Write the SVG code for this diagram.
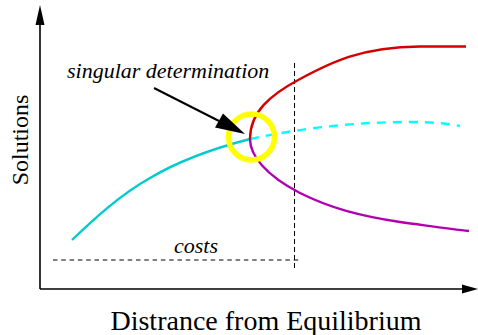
<svg xmlns="http://www.w3.org/2000/svg" width="478" height="335" viewBox="0 0 478 335">
<style>
.axis{stroke:#000;stroke-width:1.6;fill:none}
.curve{fill:none;stroke-width:2.4;stroke-linecap:butt}
.guide{stroke:#000;stroke-width:1;fill:none}
.lbl{font-family:"Liberation Serif",serif;fill:#000}
.it{font-style:italic;font-size:22px}
</style>
<defs>
<marker id="ah" viewBox="0 0 10 10" refX="10" refY="5" markerWidth="10" markerHeight="10" markerUnits="userSpaceOnUse" orient="auto">
<path d="M0,0 L10,5 L0,10 Z" fill="#000"/>
</marker>
</defs>
<g id="axes">
<line class="axis" x1="40" y1="289" x2="40" y2="22"/>
<polygon points="40,5 35.5,25 44.5,25" fill="#000"/>
<line class="axis" x1="40" y1="289" x2="463" y2="289"/>
<polygon points="478,289 462,284.5 462,293.5" fill="#000"/>
<text class="lbl" x="266" y="330" font-size="28" text-anchor="middle">Distrance from Equilibrium</text>
<text class="lbl" transform="translate(28,140) rotate(-90)" font-size="24" text-anchor="middle">Solutions</text>
</g>
<g id="guides">
<line class="guide" x1="294.5" y1="63" x2="294.5" y2="271" stroke-dasharray="5,3"/>
<line class="guide" x1="53" y1="260" x2="302" y2="260" stroke-dasharray="4.5,3.8"/>
<text class="lbl it" x="196" y="253" text-anchor="middle">costs</text>
</g>
<g id="curves">
<path class="curve" stroke="#00cccc" d="M72,240 C95,218 120,195 150,178 C182,159 215,148 250,139"/>
<path class="curve" stroke="#00ffff" stroke-width="3" stroke-dasharray="9,7" d="M250,139 Q330,122 410,122 Q440,122 460,126"/>
<path class="curve" stroke="#d40000" d="M250,139 C250,112 270,95 300,79 S360,47 420,46.5 L466,46.5"/>
<path class="curve" stroke="#b000b0" d="M250,139 C250,155 265,175 300,193 C330,208 360,216 400,222 C430,226 450,229 469,231"/>
</g>
<g id="singular">
<circle cx="251.5" cy="137" r="23" fill="none" stroke="#ffff00" stroke-width="5.5"/>
<text class="lbl it" x="67" y="78">singular determination</text>
</g>
<g id="connectors">
<line x1="154" y1="88" x2="219" y2="121" stroke="#000" stroke-width="2"/>
<polygon points="245,134 215,127.5 223,113.5" fill="#000"/>
</g>
</svg>
